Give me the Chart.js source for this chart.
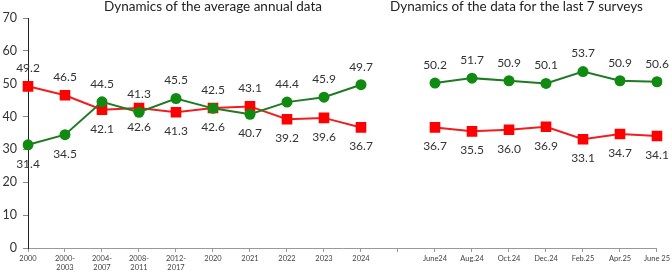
<!DOCTYPE html>
<html>
<head>
<meta charset="utf-8">
<script src="https://cdn.jsdelivr.net/npm/chart.js@4"></script>
<style>
  html, body { margin: 0; padding: 0; background: #fff; }
  #wrap { width: 672px; height: 275px; }
</style>
</head>
<body>
<div id="wrap"><canvas id="c"></canvas></div>
<script>
// categories (empty slot separates the two panels)
var categories = ['2000', ['2000-', '2003'], ['2004-', '2007'], ['2008-', '2011'], ['2012-', '2017'],
  '2020', '2021', '2022', '2023', '2024', '',
  'June24', 'Aug.24', 'Oct.24', 'Dec.24', 'Feb.25', 'Apr.25', 'June 25'];

var greenValues = [31.4, 34.5, 44.5, 41.3, 45.5, 42.5, 40.7, 44.4, 45.9, 49.7, null,
  50.2, 51.7, 50.9, 50.1, 53.7, 50.9, 50.6];
var redValues = [49.2, 46.5, 42.1, 42.6, 41.3, 42.6, 43.1, 39.2, 39.6, 36.7, null,
  36.7, 35.5, 36.0, 36.9, 33.1, 34.7, 34.1];

var yTicks = [0, 10, 20, 30, 40, 50, 60, 70];

var panelTitles = ['Dynamics of the average annual data', 'Dynamics of the data for the last 7 surveys'];

// where the red label sits above (and green below) instead of the other way
var redOnTop = [0, 1, 6];

var FONT = 'Lato, "Noto Sans", sans-serif';

var labelPlugin = {
  id: 'pointLabels',
  afterDatasetsDraw: function(chart) {
    var ctx = chart.ctx;
    ctx.save();
    ctx.font = '12px ' + FONT;
    ctx.fillStyle = '#333';
    ctx.textAlign = 'center';
    ctx.textBaseline = 'middle';
    chart.data.datasets.forEach(function(ds, di) {
      var meta = chart.getDatasetMeta(di);
      meta.data.forEach(function(pt, i) {
        var v = ds.data[i];
        if (v === null) return;
        var up = (di === 0) ? redOnTop.indexOf(i) < 0 : redOnTop.indexOf(i) >= 0;
        ctx.fillText(v.toFixed(1), pt.x, pt.y + (up ? -18 : 19));
      });
    });
    ctx.restore();
  }
};

var titlePlugin = {
  id: 'panelTitles',
  afterDraw: function(chart) {
    var ctx = chart.ctx;
    var xs = chart.scales.x;
    ctx.save();
    ctx.font = '13.5px ' + FONT;
    ctx.fillStyle = '#222';
    ctx.textAlign = 'center';
    ctx.textBaseline = 'middle';
    ctx.fillText(panelTitles[0], xs.getPixelForValue(5), 7);
    ctx.fillText(panelTitles[1], xs.getPixelForValue(13.2), 7);
    ctx.restore();
  }
};

var ctx = document.getElementById('c');
var config = {
  type: 'line',
  data: {
    labels: categories,
    datasets: [{
      label: 'green',
      data: greenValues,
      borderColor: '#1f7a24',
      backgroundColor: '#118a11',
      borderWidth: 2,
      pointStyle: 'circle',
      pointRadius: 5.5,
      pointBorderWidth: 0,
      spanGaps: false,
      fill: false
    }, {
      label: 'red',
      data: redValues,
      borderColor: '#f01e1e',
      backgroundColor: '#ff0000',
      borderWidth: 2,
      pointStyle: 'rect',
      pointRadius: 7.5,
      pointBorderWidth: 0,
      spanGaps: false,
      fill: false
    }]
  },
  options: {
    responsive: true,
    maintainAspectRatio: false,
    animation: false,
    layout: { padding: { top: 18, right: 13, left: 0, bottom: 0 } },
    plugins: {
      legend: { display: false },
      tooltip: { enabled: false }
    },
    scales: {
      x: {
        offset: false,
        afterFit: function(s) { s.height = 27; },
        grid: { drawOnChartArea: false, drawTicks: true, tickLength: 4, color: '#999' },
        border: { display: true, color: '#999', width: 1 },
        ticks: {
          autoSkip: false, maxRotation: 0, padding: 2,
          font: { size: 7.5, family: FONT }, color: '#444'
        }
      },
      y: {
        min: 0, max: 70,
        afterFit: function(s) { s.width = 28; },
        afterBuildTicks: function(s) { s.ticks = yTicks.map(function(v) { return { value: v }; }); },
        grid: { drawOnChartArea: false, drawTicks: true, tickLength: 5, color: '#888' },
        border: { display: true, color: '#222', width: 1 },
        ticks: { font: { size: 12.5, family: FONT }, color: '#333', padding: 6 }
      }
    }
  },
  plugins: [labelPlugin, titlePlugin]
};

var chart = new Chart(ctx, config);
</script>
</body>
</html>
